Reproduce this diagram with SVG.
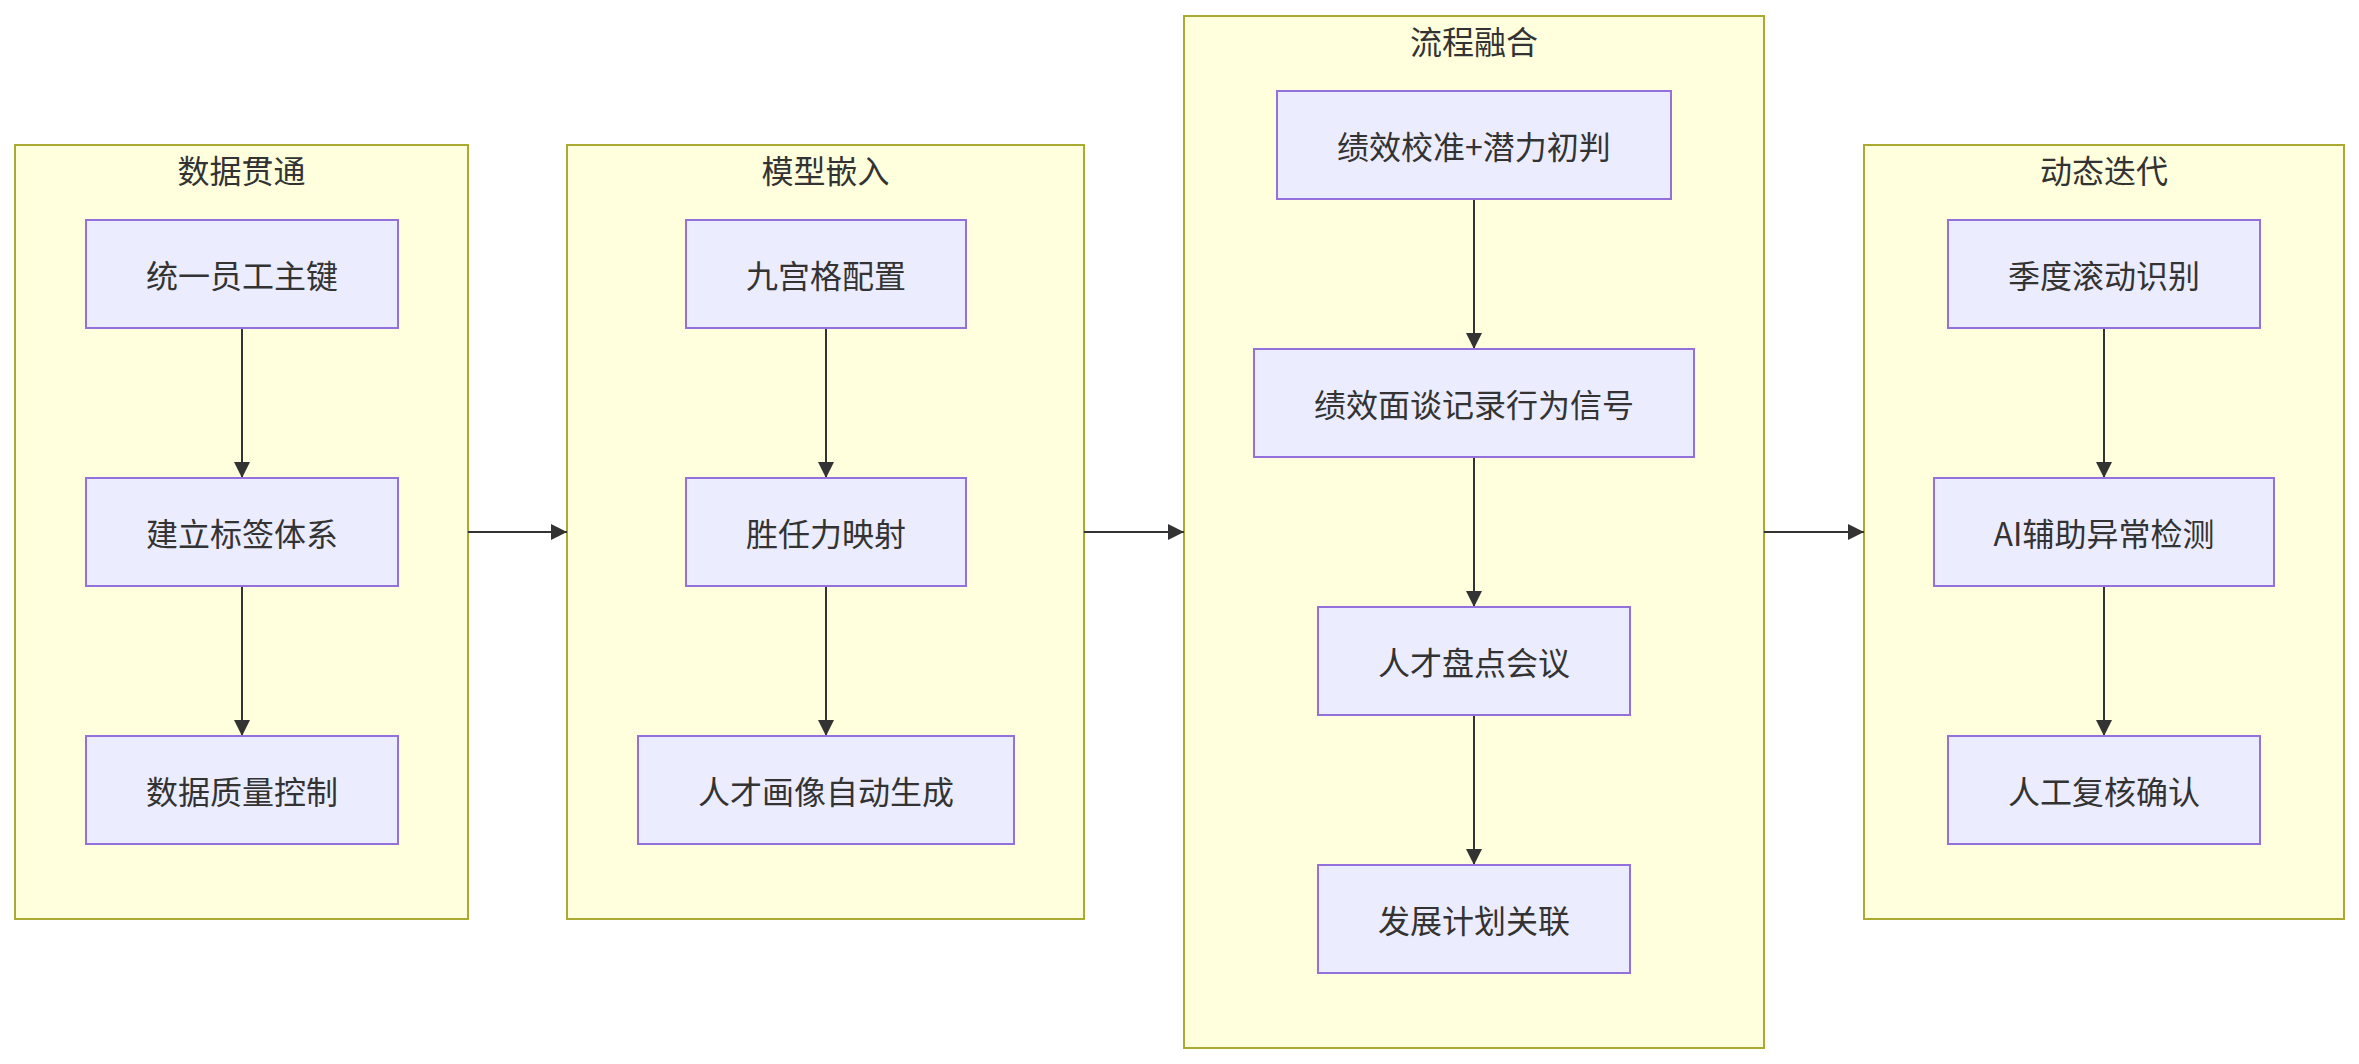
<svg xmlns="http://www.w3.org/2000/svg" width="2359" height="1064" viewBox="0 0 2359 1064">
<style>
.cluster rect{fill:#ffffde;stroke:#aaaa33;stroke-width:2}
.node rect{fill:#ececff;stroke:#9370db;stroke-width:2}
text{font-family:"Noto Sans CJK SC","Noto Sans",sans-serif;font-size:32px;fill:#333;text-anchor:middle;dominant-baseline:central}
.edges line{stroke:#333;stroke-width:2;fill:none;marker-end:url(#arrow)}
</style>
<defs>
<marker id="arrow" markerUnits="userSpaceOnUse" markerWidth="16" markerHeight="16" refX="16" refY="8" orient="auto">
<path d="M0,0 L16,8 L0,16 z" fill="#333"/>
</marker>
</defs>
<rect width="2359" height="1064" fill="#ffffff"/>
<g id="cluster-data" class="cluster"><rect x="15" y="145" width="453" height="774"/><text x="241.5" y="169">数据贯通</text></g>
<g id="cluster-model" class="cluster"><rect x="567" y="145" width="517" height="774"/><text x="825.5" y="169">模型嵌入</text></g>
<g id="cluster-process" class="cluster"><rect x="1184" y="16" width="580" height="1032"/><text x="1474" y="40">流程融合</text></g>
<g id="cluster-dynamic" class="cluster"><rect x="1864" y="145" width="480" height="774"/><text x="2104" y="169">动态迭代</text></g>

<g class="edges" id="connectors">
<line x1="242" y1="328" x2="242" y2="478"/>
<line x1="242" y1="586" x2="242" y2="736"/>
<line x1="826" y1="328" x2="826" y2="478"/>
<line x1="826" y1="586" x2="826" y2="736"/>
<line x1="1474" y1="199" x2="1474" y2="349"/>
<line x1="1474" y1="457" x2="1474" y2="607"/>
<line x1="1474" y1="715" x2="1474" y2="865"/>
<line x1="2104" y1="328" x2="2104" y2="478"/>
<line x1="2104" y1="586" x2="2104" y2="736"/>
<line x1="468" y1="532" x2="567" y2="532"/>
<line x1="1084" y1="532" x2="1184" y2="532"/>
<line x1="1764" y1="532" x2="1864" y2="532"/>
</g>

<g id="A1" class="node"><rect x="86" y="220" width="312" height="108"/><text x="242" y="274">统一员工主键</text></g>
<g id="A2" class="node"><rect x="86" y="478" width="312" height="108"/><text x="242" y="532">建立标签体系</text></g>
<g id="A3" class="node"><rect x="86" y="736" width="312" height="108"/><text x="242" y="790">数据质量控制</text></g>

<g id="B1" class="node"><rect x="686" y="220" width="280" height="108"/><text x="826" y="274">九宫格配置</text></g>
<g id="B2" class="node"><rect x="686" y="478" width="280" height="108"/><text x="826" y="532">胜任力映射</text></g>
<g id="B3" class="node"><rect x="638" y="736" width="376" height="108"/><text x="826" y="790">人才画像自动生成</text></g>

<g id="C1" class="node"><rect x="1277" y="91" width="394" height="108"/><text x="1474" y="145">绩效校准+潜力初判</text></g>
<g id="C2" class="node"><rect x="1254" y="349" width="440" height="108"/><text x="1474" y="403">绩效面谈记录行为信号</text></g>
<g id="C3" class="node"><rect x="1318" y="607" width="312" height="108"/><text x="1474" y="661">人才盘点会议</text></g>
<g id="C4" class="node"><rect x="1318" y="865" width="312" height="108"/><text x="1474" y="919">发展计划关联</text></g>

<g id="D1" class="node"><rect x="1948" y="220" width="312" height="108"/><text x="2104" y="274">季度滚动识别</text></g>
<g id="D2" class="node"><rect x="1934" y="478" width="340" height="108"/><text x="2104" y="532">AI辅助异常检测</text></g>
<g id="D3" class="node"><rect x="1948" y="736" width="312" height="108"/><text x="2104" y="790">人工复核确认</text></g>
</svg>
